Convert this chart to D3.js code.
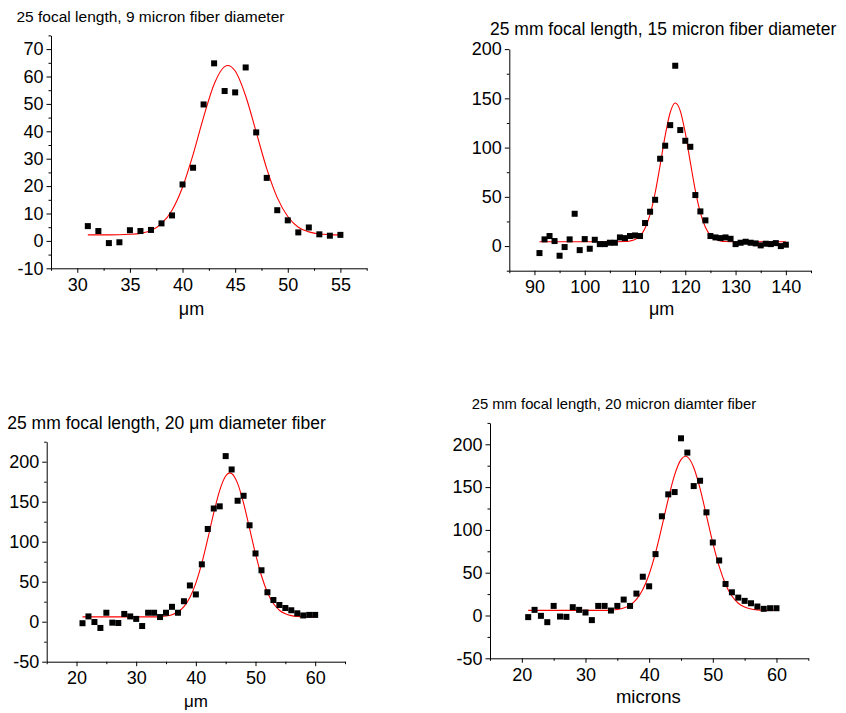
<!DOCTYPE html>
<html>
<head>
<meta charset="utf-8">
<script src="https://cdn.jsdelivr.net/npm/d3@7"></script>
<style>
  html, body { margin: 0; padding: 0; background: #fff; }
  svg { display: block; font-family: "Liberation Sans", Arial, sans-serif; }
</style>
</head>
<body>
<svg id="chart" width="846" height="713"></svg>
<script>
// ---------- Panel 1: 25 focal length, 9 micron fiber diameter ----------
const p1Title = "25 focal length, 9 micron fiber diameter";
const p1XLabel = "\u03bcm";
const p1X = [31,32,33,34,35,36,37,38,39,40,41,42,43,44,45,46,47,48,49,50,51,52,53,54,55];
const p1Y = [5.4,3.6,-0.8,-0.5,3.9,3.6,4.0,6.4,9.3,20.6,26.7,49.8,64.8,54.7,54.2,63.3,39.6,23.0,11.2,7.5,3.1,4.9,2.4,1.9,2.2];
const p1FitX = [31,33,35,36,37,38,39,40,41,42,43,44,44.3,45,46,47,48,49,50,51,52,53,54,55];
const p1FitY = [2.2,2.2,2.4,2.75,3.8,6.3,11.2,19.6,31.5,45.2,57.2,63.6,64.0,62.0,52.9,39.7,26.4,15.8,8.9,5.0,3.3,2.5,2.3,2.2];
const p1XTicks = [30,35,40,45,50,55];
const p1XMinor = [27.5,32.5,37.5,42.5,47.5,52.5,57.5];
const p1YTicks = [-10,0,10,20,30,40,50,60,70];
const p1YMinor = [-5,5,15,25,35,45,55,65,75];

// ---------- Panel 2: 25 mm focal length, 15 micron fiber diameter ----------
const p2Title = "25 mm focal length, 15 micron fiber diameter";
const p2XLabel = "\u03bcm";
const p2X = [91,92,93,94,95,96,97,98,99,100,101,102,103,104,105,106,107,108,109,110,111,112,113,114,115,116,117,118,119,120,121,122,123,124,125,126,127,128,129,130,131,132,133,134,135,136,137,138,139,140];
const p2Y = [-7.1,6.8,10.2,5.1,-9.8,-1.0,6.8,32.8,-4.1,7.1,-2.7,6.4,2.0,2.0,3.4,3.4,8.8,8.1,10.2,10.8,10.2,23.4,34.9,47.0,88.7,101.9,122.8,183.1,117.8,106.9,100.8,51.8,35.2,26.1,10.2,8.8,8.1,8.8,7.4,2.0,3.4,4.4,3.4,2.7,0.7,2.4,2.0,3.0,0.0,1.4];
const p2FitX = [91,100,105,108,109,110,111,112,113,114,115,116,117,118,119,120,121,122,123,124,125,126,127,128,130,135,140];
const p2FitY = [4.4,4.4,4.4,4.6,5.2,6.7,10.3,18.0,32.1,53.9,82.2,112.1,135.6,145.2,137.3,114.9,85.2,56.4,33.9,19.1,10.9,6.9,5.3,4.6,4.4,4.4,4.4];
const p2XTicks = [90,100,110,120,130,140];
const p2XMinor = [85,95,105,115,125,135,145];
const p2YTicks = [0,50,100,150,200];
const p2YMinor = [-25,25,75,125,175];

// ---------- Panels 3 & 4: 25 mm focal length, 20 micron fiber ----------
const p3Title = "25 mm focal length, 20 \u03bcm diameter fiber";
const p3XLabel = "\u03bcm";
const p4Title = "25 mm focal length, 20 micron diamter fiber";
const p4XLabel = "microns";
const p34X = [21,22,23,24,25,26,27,28,29,30,31,32,33,34,35,36,37,38,39,40,41,42,43,44,45,46,47,48,49,50,51,52,53,54,55,56,57,58,59,60];
const p34Y = [-1.9,6.6,-0.4,-7.8,11.2,-1.2,-1.6,9.7,6.6,3.5,-5.4,11.2,11.2,5.8,11.2,18.6,11.2,25.6,45.3,34.1,71.7,115.9,141.5,144.2,207.0,190.3,151.2,157.4,120.5,85.3,64.3,36.8,27.1,20.9,17.1,14.3,10.5,7.8,8.5,8.5];
const p34FitX = [21,30,33,34,35,36,37,38,39,40,41,42,43,44,45,45.7,46,47,48,49,50,51,52,53,54,55,56,57,58,60];
const p34FitY = [6.0,6.0,6.0,6.4,7.1,8.7,12.1,18.8,30.3,48.2,73.1,103.7,136.0,164.2,182.1,186.0,185.3,172.9,148.1,116.7,84.8,57.4,36.6,22.7,14.3,9.8,7.6,6.6,6.2,6.0];
const p34XTicks = [20,30,40,50,60];
const p34XMinor = [15,25,35,45,55,65];
const p34YTicks = [-50,0,50,100,150,200];
const p34YMinor = [-25,25,75,125,175,225];

const svg = d3.select("#chart");

function panel(cfg) {
  const g = svg.append("g");
  const x = d3.scaleLinear().domain(cfg.xDomain).range(cfg.xRange);
  const y = d3.scaleLinear().domain(cfg.yDomain).range(cfg.yRange);

  // minor ticks
  g.append("g").attr("transform", `translate(0,${cfg.yRange[0]})`)
    .call(d3.axisBottom(x).tickValues(cfg.xMinor).tickSize(2.5).tickSizeOuter(0).tickFormat(""))
    .call(s => s.select(".domain").remove());
  g.append("g").attr("transform", `translate(${cfg.xRange[0]},0)`)
    .call(d3.axisLeft(y).tickValues(cfg.yMinor).tickSize(2.5).tickSizeOuter(0).tickFormat(""))
    .call(s => s.select(".domain").remove());

  // major axes
  const xa = g.append("g").attr("transform", `translate(0,${cfg.yRange[0]})`)
    .call(d3.axisBottom(x).tickValues(cfg.xTicks).tickSize(4.5).tickPadding(5).tickSizeOuter(0).tickFormat(d3.format("d")));
  const ya = g.append("g").attr("transform", `translate(${cfg.xRange[0]},0)`)
    .call(d3.axisLeft(y).tickValues(cfg.yTicks).tickSize(4.5).tickPadding(3).tickSizeOuter(0).tickFormat(d => d < 0 ? "-" + Math.abs(d) : String(d)));
  [xa, ya].forEach(a => {
    a.selectAll("text").attr("font-size", cfg.tickFont).attr("fill", "#000")
      .attr("font-family", '"Liberation Sans", Arial, sans-serif');
    a.attr("font-size", null);
  });
  g.selectAll(".tick line").attr("stroke", "#000");
  g.selectAll(".domain").attr("stroke", "#000");

  // fit line
  const line = d3.line().x(d => x(d[0])).y(d => y(d[1])).curve(d3.curveMonotoneX);
  g.append("path")
    .datum(cfg.fitX.map((v, i) => [v, cfg.fitY[i]]))
    .attr("d", line).attr("fill", "none").attr("stroke", "#ff0000").attr("stroke-width", 1.1);

  // data squares
  const s = 6;
  g.append("g").selectAll("rect")
    .data(cfg.dataX.map((v, i) => [v, cfg.dataY[i]]))
    .join("rect")
    .attr("x", d => x(d[0]) - s / 2).attr("y", d => y(d[1]) - s / 2)
    .attr("width", s).attr("height", s).attr("fill", "#000");

  // title
  g.append("text").attr("x", cfg.titlePos[0]).attr("y", cfg.titlePos[1])
    .attr("font-size", cfg.titleFont).attr("fill", "#000").text(cfg.title);
  // x label
  g.append("text").attr("x", cfg.labelPos[0]).attr("y", cfg.labelPos[1])
    .attr("text-anchor", "middle").attr("font-size", cfg.labelFont).attr("fill", "#000").text(cfg.xLabel);
}

panel({
  xDomain: [27.5, 57.5], xRange: [51, 366.7],
  yDomain: [-10, 75], yRange: [268.3, 35.4],
  xTicks: p1XTicks, xMinor: p1XMinor, yTicks: p1YTicks, yMinor: p1YMinor,
  dataX: p1X, dataY: p1Y, fitX: p1FitX, fitY: p1FitY,
  title: p1Title, titlePos: [16.5, 21.5], titleFont: 15.5,
  xLabel: p1XLabel, labelPos: [191.5, 315], labelFont: 18,
  tickFont: 18
});

panel({
  xDomain: [85, 145], xRange: [509.3, 811],
  yDomain: [-25, 200], yRange: [270.7, 49.1],
  xTicks: p2XTicks, xMinor: p2XMinor, yTicks: p2YTicks, yMinor: p2YMinor,
  dataX: p2X, dataY: p2Y, fitX: p2FitX, fitY: p2FitY,
  title: p2Title, titlePos: [490, 35], titleFont: 17.5,
  xLabel: p2XLabel, labelPos: [661.7, 315], labelFont: 18,
  tickFont: 18
});

panel({
  xDomain: [15, 65], xRange: [46.7, 345],
  yDomain: [-50, 225], yRange: [661.7, 441.7],
  xTicks: p34XTicks, xMinor: p34XMinor, yTicks: p34YTicks, yMinor: p34YMinor,
  dataX: p34X, dataY: p34Y, fitX: p34FitX, fitY: p34FitY,
  title: p3Title, titlePos: [7.3, 429.3], titleFont: 17.5,
  xLabel: p3XLabel, labelPos: [196, 706.5], labelFont: 17,
  tickFont: 18
});

panel({
  xDomain: [15, 65], xRange: [490, 808.3],
  yDomain: [-50, 225], yRange: [658.3, 422.9],
  xTicks: p34XTicks, xMinor: p34XMinor, yTicks: p34YTicks, yMinor: p34YMinor,
  dataX: p34X, dataY: p34Y, fitX: p34FitX, fitY: p34FitY,
  title: p4Title, titlePos: [471.7, 409.3], titleFont: 14.8,
  xLabel: p4XLabel, labelPos: [648.3, 703.3], labelFont: 18.5,
  tickFont: 18
});
</script>
</body>
</html>
